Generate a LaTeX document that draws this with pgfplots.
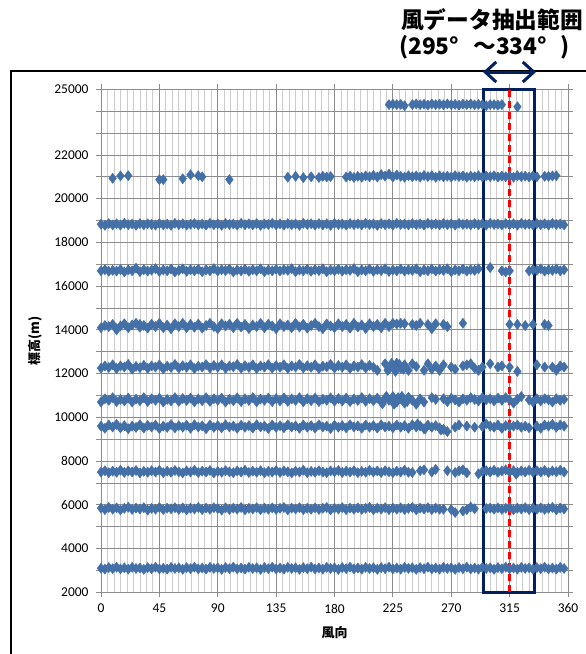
\documentclass[border=0pt]{standalone}
\usepackage{pgfplots}
\pgfplotsset{compat=1.18}
\usepackage{pgfplotstable}
\usepackage{fontspec}
\setmainfont{Carlito}
\newfontfamily\jp{Noto Sans CJK JP}
\usetikzlibrary{arrows.meta}
\definecolor{ptblue}{RGB}{68,112,168}
\definecolor{navy}{RGB}{0,32,96}

\pgfplotstableread{
x a b c d e f g h i j k
0 3100 5850 7500 9600 10700 12250 14100 16700 18830 nan nan
3 3060 5780 7560 9500 10850 12350 14200 16750 18780 nan nan
6 3130 5880 7470 9650 10780 12280 14150 16680 18860 nan nan
9 3080 5800 7540 9560 10900 12400 14250 16720 18800 20930 nan
12 3150 5860 7490 9680 10720 12230 14050 16690 18850 nan nan
15 3070 5770 7580 9520 10820 12350 14180 16760 18790 21040 nan
18 3120 5840 7480 9620 10750 12300 14280 16650 18870 nan nan
21 3060 5890 7550 9480 10880 12420 14100 16740 18810 21050 nan
24 3140 5790 7500 9600 10700 12200 14220 16700 18840 nan nan
27 3090 5850 7570 9540 10830 12330 14300 16820 18780 nan nan
30 3110 5810 7460 9660 10760 12270 14120 16660 18860 nan nan
33 3050 5870 7530 9510 10900 12380 14200 16750 18800 nan nan
36 3130 5760 7490 9630 10720 12240 14080 16690 18850 nan nan
39 3080 5840 7560 9560 10850 12350 14260 16730 18820 nan nan
42 3150 5800 7500 9650 10780 12300 14150 16800 18790 nan nan
45 3070 5880 7580 9490 10880 12400 14300 16670 18860 20870 nan
48 3100 5780 7470 9600 10700 12220 14100 16740 18800 20870 nan
51 3060 5850 7540 9540 10820 12340 14220 16700 18840 nan nan
54 3140 5820 7490 9670 10750 12280 14050 16780 18780 nan nan
57 3090 5870 7570 9520 10900 12420 14280 16650 18870 nan nan
60 3120 5790 7510 9620 10730 12250 14150 16720 18810 nan nan
63 3050 5860 7460 9550 10860 12360 14300 16790 18850 20910 nan
66 3130 5770 7550 9640 10770 12290 14100 16680 18790 nan nan
69 3080 5840 7500 9500 10880 12400 14250 16750 18830 21090 nan
72 3150 5810 7580 9660 10710 12230 14120 16700 18860 nan nan
75 3070 5880 7480 9560 10840 12340 14270 16770 18800 21050 nan
78 3110 5780 7540 9610 10760 12300 14080 16660 18840 21000 nan
81 3060 5850 7500 9480 10900 12410 14200 16740 18790 nan nan
84 3140 5800 7570 9650 10730 12260 14300 16700 18870 nan nan
87 3090 5870 7460 9540 10850 12370 14150 16800 18810 nan nan
90 3120 5830 7530 9620 10780 12290 14050 16690 18850 nan nan
93 3050 5760 7490 9520 10880 12400 14280 16750 18780 nan nan
96 3130 5860 7560 9660 10700 12240 14180 16710 18860 nan nan
99 3080 5790 7510 9560 10830 12350 14260 16780 18820 20870 nan
102 3150 5850 7470 9600 10760 12310 14100 16650 18840 nan nan
105 3070 5800 7550 9500 10890 12420 14300 16740 18790 nan nan
108 3110 5880 7500 9640 10720 12250 14130 16700 18870 nan nan
111 3060 5770 7580 9550 10850 12360 14250 16770 18810 nan nan
114 3140 5840 7480 9620 10770 12280 14060 16680 18850 nan nan
117 3090 5810 7540 9510 10900 12400 14220 16750 18800 nan nan
120 3120 5870 7490 9660 10710 12230 14150 16700 18860 nan nan
123 3050 5780 7560 9560 10840 12350 14300 16790 18780 nan nan
126 3130 5850 7470 9600 10780 12300 14100 16660 18840 nan nan
129 3080 5800 7530 9490 10880 12410 14260 16740 18820 nan nan
132 3150 5860 7500 9650 10720 12250 14180 16700 18870 nan nan
135 3070 5790 7570 9540 10860 12370 14050 16770 18800 nan nan
138 3110 5840 7480 9620 10750 12290 14280 16690 18850 nan nan
141 3060 5880 7550 9520 10890 12400 14150 16750 18790 nan nan
144 3140 5770 7510 9660 10730 12240 14220 16720 18860 20980 nan
147 3090 5850 7460 9560 10840 12350 14100 16800 18810 nan nan
150 3120 5810 7540 9610 10770 12300 14300 16660 18840 21020 nan
153 3050 5870 7500 9500 10900 12420 14130 16740 18780 nan nan
156 3130 5780 7580 9650 10710 12260 14250 16700 18870 20960 nan
159 3080 5850 7470 9550 10850 12360 14080 16770 18820 nan nan
162 3150 5800 7530 9620 10760 12290 14200 16680 18850 21000 nan
165 3070 5860 7490 9510 10880 12400 14300 16750 18790 nan nan
168 3110 5790 7560 9660 10720 12230 14150 16710 18860 20970 nan
171 3060 5840 7500 9560 10830 12340 14050 16790 18800 21020 nan
174 3140 5880 7470 9600 10780 12310 14270 16660 18850 20990 nan
177 3090 5770 7550 9490 10890 12420 14180 16740 18780 21010 nan
180 3120 5850 7510 9640 10740 12250 14100 16700 18870 nan nan
183 3050 5810 7570 9550 10860 12370 14280 16770 18820 nan nan
186 3130 5870 7480 9620 10750 12290 14150 16690 18840 nan nan
189 3080 5780 7540 9520 10880 12400 14250 16750 18790 20990 nan
192 3150 5850 7500 9660 10720 12240 14080 16720 18860 21030 nan
195 3070 5800 7560 9560 10840 12350 14300 16800 18810 20970 nan
198 3110 5860 7470 9610 10770 12300 14130 16660 18850 21020 nan
201 3060 5790 7530 9500 10900 12410 14220 16740 18800 20980 nan
204 3140 5840 7490 9650 10730 12260 14060 16700 18870 21040 nan
207 3090 5880 7570 9550 10850 12370 14280 16780 18820 21000 nan
210 3120 5770 7500 9620 10760 12290 14150 16680 18840 21060 nan
213 3050 5850 7550 9510 10880 12150 14250 16750 18780 20990 nan
216 3130 5810 7480 9660 10700 nan 14100 16710 18860 21100 nan
219 3080 5870 7560 9560 10870 12450 14300 16790 18810 21030 nan
222 3150 5780 7510 9600 10780 12200 14150 16670 18850 21120 24300
225 3070 5850 7470 9520 10950 12350 14300 16740 18790 20990 24320
228 3110 5800 7540 9650 10700 12480 14270 16700 18870 21080 24300
231 3060 5860 7500 9550 10850 12250 14300 16780 18820 21020 24310
234 3140 5790 7580 9620 10650 12400 14280 16690 18840 20980 24250
237 3090 5840 7490 9500 10920 12150 nan 16750 18800 21050 nan
240 3120 5880 7480 9660 10780 12450 14250 16720 18860 21000 24300
243 3050 5770 nan 9560 10600 12320 14200 16790 18810 21040 24330
246 3130 5850 7560 9610 10850 nan 14300 16660 18850 20990 24300
249 3080 5810 7600 9480 10700 12150 nan 16740 18790 21060 24320
252 3150 5870 nan 9650 nan 12450 14250 16700 18870 21010 24280
255 3070 5780 7500 9550 10900 12200 14050 16780 18820 21050 24330
258 3110 5850 7620 9620 10820 12350 14280 16690 18840 20980 24300
261 3060 5800 nan 9520 nan 12150 nan 16750 18800 21040 24320
264 3140 5800 nan 9450 10850 12400 14250 16720 18860 21000 24290
267 3090 nan 7560 9350 10720 nan 14150 16790 18810 21030 24330
270 3120 5780 nan nan 10870 12300 nan 16660 18850 20990 24300
273 3050 5650 7480 9550 10800 12200 nan 16740 18790 21050 24310
276 3130 nan 7550 9650 10700 nan nan 16700 18870 21010 24280
279 3080 5720 7600 nan 10850 12350 14300 16780 18820 21040 24320
282 3150 5780 7460 9600 10780 12400 nan 16690 18840 20980 24300
285 3070 5900 nan nan 10900 12450 nan 16750 18800 21030 24330
288 3110 5820 nan 9550 10820 12250 nan 16720 18860 21000 24290
291 3060 nan 7420 nan 10750 12150 nan 16790 18810 21050 24310
294 3140 nan 7520 9580 10900 12300 nan nan 18850 20990 24300
297 3090 5830 7560 9700 10800 nan nan nan 18790 21040 24250
300 3120 5850 7500 9600 10850 12450 nan 16850 18870 21010 24300
303 3050 5800 7580 9550 10750 nan nan nan 18820 21050 24300
306 3130 5860 7490 9650 10880 12300 nan nan 18840 20990 24280
309 3080 5790 7550 9500 10780 12350 nan 16700 18800 21030 24300
312 3150 5840 7600 9620 10900 nan nan 16650 18860 21000 nan
315 3070 5880 7500 9580 10800 12300 14250 16700 18810 21040 nan
318 3110 5770 7560 9600 10650 nan nan nan 18850 20980 nan
321 3060 5850 7480 9650 10830 12100 14250 nan 18790 21050 24200
324 3140 5810 7550 9550 10950 nan nan nan 18870 21010 nan
327 3090 5870 7500 9600 nan nan 14200 nan 18820 21030 nan
330 3120 5780 7580 9520 10800 nan nan 16700 18840 20990 nan
333 3050 5850 7490 nan 10700 nan 14250 16750 18800 21040 nan
336 3130 5800 7560 9600 10850 12400 nan 16720 18860 21000 nan
339 3080 5860 7500 9500 10750 nan nan 16790 18810 nan nan
342 3150 5790 7570 9650 10850 12300 14250 16690 18850 21020 nan
345 3070 5840 7480 9600 10800 nan 14200 16750 18790 21020 nan
348 3110 5880 7550 9680 10700 12300 nan 16720 18870 21040 nan
351 3060 5770 7510 9550 10850 12150 nan 16780 18820 21050 nan
354 3140 5850 7580 9650 10780 12350 nan 16700 18840 nan nan
357 3090 5810 7500 9600 10820 12300 nan 16750 18800 nan nan
}\winddata

\begin{document}
\begin{tikzpicture}
\useasboundingbox (0bp,0bp) rectangle (586bp,-654bp);
\clip (0bp,0bp) rectangle (586bp,-654bp);
\fill[white] (0bp,0bp) rectangle (586bp,-654bp);
\draw[line width=2bp] (11bp,-700bp) -- (11bp,-71bp) -- (700bp,-71bp);
\begin{axis}[
  at={(101bp,-592.3bp)}, anchor=south west,
  scale only axis, width=467bp, height=503bp,
  xmin=0, xmax=360, ymin=2000, ymax=25000,
  scaled y ticks=false, scaled x ticks=false,
  xtick={0,45,...,360},
  xticklabels={0,45,90,135,180,225,270,315,360},
  minor xtick={0,5,...,360},
  ytick={2000,3000,...,25000},
  yticklabels={2000,,4000,,6000,,8000,,10000,,12000,,14000,,16000,,18000,,20000,,22000,,,25000},
  xmajorgrids, xminorgrids, ymajorgrids,
  major grid style={color=black!45, line width=0.8bp},
  minor grid style={color=black!20, line width=0.8bp},
  axis line style={color=black!45, line width=0.8bp},
  tick align=outside, major tick length=5bp, minor tick length=0bp,
  tick style={color=black!45, line width=0.8bp},
  ticklabel style={font=\fontsize{13.5}{15}\selectfont},
  xticklabel style={yshift=-3bp},
  yticklabel style={xshift=-4bp},
  xlabel={\jp\bfseries 風向},
  ylabel={\jp\bfseries 標高(m)},
  label style={font=\fontsize{13}{15}\selectfont},
  xlabel style={at={(axis description cs:0.5,-0.0795)}, anchor=center},
  ylabel style={at={(axis description cs:-0.141,0.5)}, anchor=center},
  clip=false,
]
\pgfplotsinvokeforeach{a,b,c,d,e,f,g,h,i,j,k}{
  \addplot[only marks, mark=diamond*, mark size=5.1bp, color=ptblue] table[x=x,y=#1]{\winddata};
}
\addplot[only marks, mark=diamond*, mark size=5.1bp, color=ptblue] coordinates {
  (217,10620) (220,10960) (226,10600) (232,10960) (236,10720) (229,10900)
  (221,12150) (224,12470) (227,12100) (230,12420) (233,12200)
  (262,9420) (244,9700) (250,9480) (12,14000) (30,14250) (300,7520) (320,7400)
};
\draw[navy, line width=2.5bp] (axis cs:295,2000) rectangle (axis cs:334,25000);
\draw[red, line width=2.5bp, dash pattern=on 7bp off 4bp] (axis cs:315,2000) -- (axis cs:315,25000);
\end{axis}
\draw[navy, line width=3bp, {Straight Barb[length=11bp,width=20bp]}-{Straight Barb[length=11bp,width=20bp]}] (483bp,-72bp) -- (536bp,-72bp);
\node[anchor=west, inner sep=0pt] at (401bp,-20bp) {\jp\bfseries\fontsize{22.8}{26}\selectfont 風データ抽出範囲};
\node[anchor=west, inner sep=0pt] at (399bp,-47bp) {\jp\bfseries\fontsize{22.8}{26}\selectfont (295°\hspace{14bp}～334°\hspace{13bp})};
\end{tikzpicture}
\end{document}
